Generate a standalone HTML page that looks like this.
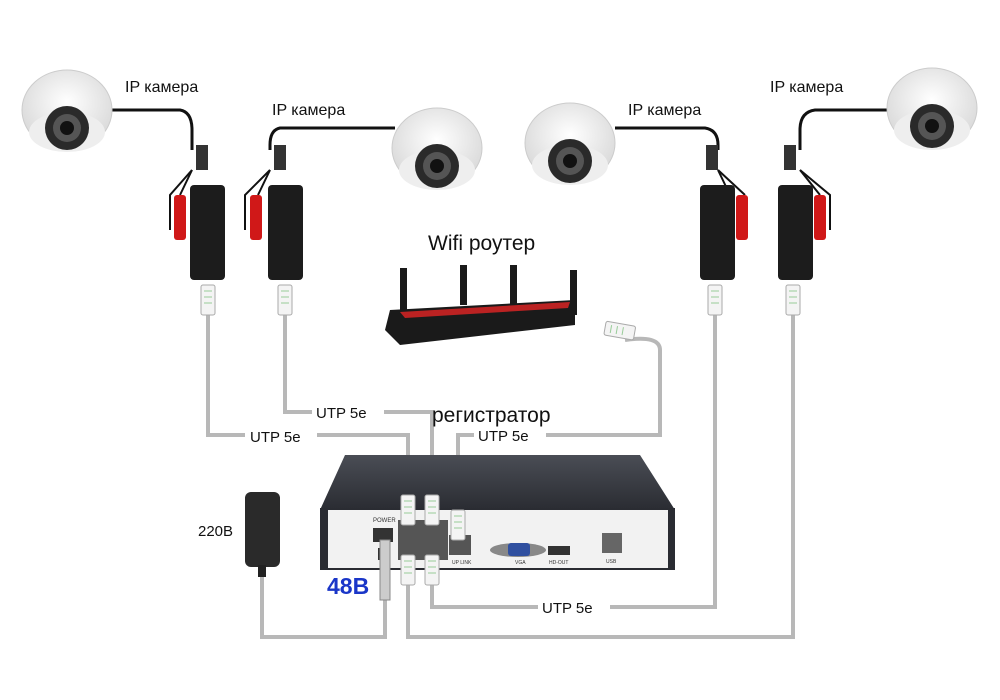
<!DOCTYPE html>
<html><head><meta charset="utf-8"><style>
body{margin:0;background:#fff}
svg{display:block}
text{font-family:"Liberation Sans",sans-serif}
</style></head><body>
<svg width="1000" height="700" viewBox="0 0 1000 700">
<defs>
<radialGradient id="dome" cx="50%" cy="40%" r="60%"><stop offset="0" stop-color="#fff"/><stop offset="1" stop-color="#d8d8d8"/></radialGradient>
<linearGradient id="top" x1="0" y1="0" x2="0" y2="1"><stop offset="0" stop-color="#4a4d55"/><stop offset="1" stop-color="#2a2c32"/></linearGradient>
<g id="cam">
<ellipse cx="0" cy="0" rx="45" ry="40" fill="url(#dome)" stroke="#ccc"/>
<ellipse cx="0" cy="22" rx="38" ry="20" fill="#eee"/>
<circle cx="0" cy="18" r="22" fill="#2a2a2a"/>
<circle cx="0" cy="18" r="14" fill="#555"/>
<circle cx="0" cy="18" r="7" fill="#111"/>
</g>
<g id="split">
<rect x="0" y="0" width="35" height="95" rx="4" fill="#1c1c1c"/>
<rect x="6" y="-40" width="12" height="25" fill="#333"/>
</g>
<g id="plug">
<rect x="-7" y="0" width="14" height="30" rx="2" fill="#f4f4f4" stroke="#aaa"/>
<line x1="-4" y1="6" x2="4" y2="6" stroke="#9c9"/><line x1="-4" y1="12" x2="4" y2="12" stroke="#9c9"/><line x1="-4" y1="18" x2="4" y2="18" stroke="#9c9"/>
</g>
</defs>

<!-- gray cables -->
<g fill="none" stroke="#b8b8b8" stroke-width="4">
<path d="M208 315 V435 H408 V500"/>
<path d="M285 315 V412 H432 V500"/>
<path d="M625 340 Q660 335 660 350 V435 H458 V515"/>
<path d="M715 315 V607 H432 V565"/>
<path d="M793 315 V637 H408 V565"/>
<path d="M262 575 V637 H385 V545"/>
</g>

<!-- black cables -->
<g fill="none" stroke="#111" stroke-width="3">
<path d="M105 110 H180 Q192 112 192 130 V150"/>
<path d="M395 128 H280 Q270 130 270 145 V150"/>
<path d="M615 128 H705 Q718 130 718 145 V150"/>
<path d="M895 110 H815 Q800 112 800 130 V150"/>
</g>
<g fill="none" stroke="#111" stroke-width="2">
<path d="M192 170 L170 195 V230"/><path d="M192 170 L180 195"/>
<path d="M270 170 L245 195 V230"/><path d="M270 170 L258 195"/>
<path d="M718 170 L745 195"/><path d="M718 170 L730 195"/>
<path d="M800 170 L830 195 V230"/><path d="M800 170 L820 195"/>
</g>
<g fill="#d01818">
<rect x="174" y="195" width="12" height="45" rx="3"/>
<rect x="250" y="195" width="12" height="45" rx="3"/>
<rect x="736" y="195" width="12" height="45" rx="3"/>
<rect x="814" y="195" width="12" height="45" rx="3"/>
</g>
<use href="#split" x="190" y="185"/>
<use href="#split" x="268" y="185"/>
<use href="#split" x="700" y="185"/>
<use href="#split" x="778" y="185"/>
<use href="#plug" x="208" y="285"/>
<use href="#plug" x="285" y="285"/>
<use href="#plug" x="715" y="285"/>
<use href="#plug" x="793" y="285"/>
<g transform="translate(605,328) rotate(-80)"><use href="#plug" x="0" y="0"/></g>

<use href="#cam" x="67" y="110"/>
<use href="#cam" x="437" y="148"/>
<use href="#cam" x="570" y="143"/>
<use href="#cam" x="932" y="108"/>

<!-- router -->
<g fill="#1a1a1a">
<rect x="400" y="268" width="7" height="45"/><rect x="460" y="265" width="7" height="40"/>
<rect x="510" y="265" width="7" height="40"/><rect x="570" y="270" width="7" height="45"/>
<polygon points="390,310 575,300 575,325 400,345 385,330"/>
</g>
<polygon points="400,312 570,302 568,308 405,318" fill="#b22"/>

<!-- NVR -->
<polygon points="345,455 640,455 675,510 320,510" fill="url(#top)"/>
<rect x="320" y="508" width="355" height="62" fill="#2a2c32"/>
<rect x="328" y="510" width="340" height="58" fill="#f2f2f2"/>
<rect x="373" y="528" width="20" height="14" fill="#333"/>
<text x="373" y="522" font-size="6" fill="#333">POWER</text>
<rect x="378" y="548" width="12" height="12" fill="#333"/>
<rect x="398" y="520" width="50" height="40" fill="#555"/>
<rect x="449" y="535" width="22" height="20" fill="#555"/>
<ellipse cx="518" cy="550" rx="28" ry="7" fill="#888"/><rect x="508" y="543" width="22" height="13" rx="3" fill="#3050a0"/>
<rect x="548" y="546" width="22" height="9" fill="#333"/>
<rect x="602" y="533" width="20" height="20" fill="#666"/>
<text x="515" y="564" font-size="5" fill="#333">VGA</text>
<text x="549" y="564" font-size="5" fill="#333">HD-OUT</text>
<text x="606" y="563" font-size="5" fill="#333">USB</text>
<text x="452" y="564" font-size="5" fill="#333">UP LINK</text>
<use href="#plug" x="408" y="495"/><use href="#plug" x="432" y="495"/><use href="#plug" x="458" y="510"/>
<use href="#plug" x="408" y="555"/><use href="#plug" x="432" y="555"/>

<!-- adapter -->
<rect x="245" y="492" width="35" height="75" rx="6" fill="#2a2a2a"/>
<rect x="258" y="565" width="8" height="12" fill="#222"/>
<rect x="380" y="540" width="10" height="60" fill="#ccc" stroke="#888"/>

<!-- labels -->
<g font-size="16" fill="#111">
<text x="125" y="92">IP камера</text>
<text x="272" y="115">IP камера</text>
<text x="628" y="115">IP камера</text>
<text x="770" y="92">IP камера</text>
<text x="198" y="536" font-size="15">220В</text>
</g>
<text x="428" y="250" font-size="21" fill="#111">Wifi роутер</text>
<text x="432" y="422" font-size="21" fill="#111">регистратор</text>
<g font-size="15" fill="#111">
<rect x="245" y="428" width="72" height="16" fill="#fff"/><text x="250" y="442">UTP 5e</text>
<rect x="312" y="404" width="72" height="16" fill="#fff"/><text x="316" y="418">UTP 5e</text>
<rect x="474" y="427" width="72" height="16" fill="#fff"/><text x="478" y="441">UTP 5e</text>
<rect x="538" y="599" width="72" height="16" fill="#fff"/><text x="542" y="613">UTP 5e</text>
</g>
<text x="327" y="594" font-size="23" font-weight="bold" fill="#1a36c8">48В</text>
</svg>
</body></html>
